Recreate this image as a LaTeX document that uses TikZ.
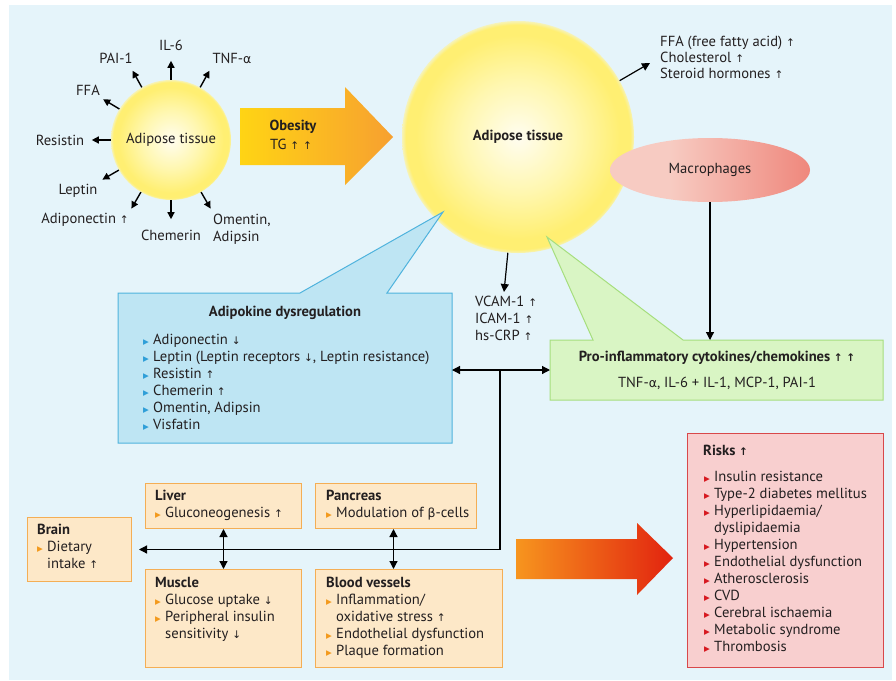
\documentclass[tikz,border=0pt]{standalone}
\usepackage{fontspec}
\setmainfont{PT Sans}
\newfontfamily\symf{DejaVu Sans}
\usetikzlibrary{arrows.meta,shapes.geometric,calc}
\definecolor{bgc}{HTML}{E5F4FA}
\definecolor{tc}{HTML}{231F20}
\definecolor{cin}{HTML}{FFFDF0}
\definecolor{cmid}{HTML}{FFF7B0}
\definecolor{cout}{HTML}{FFEF72}
\definecolor{cedge}{HTML}{F6F3B8}
\definecolor{obl}{HTML}{FFD414}
\definecolor{obr}{HTML}{F7A030}
\definecolor{rl}{HTML}{F7951E}
\definecolor{rr}{HTML}{E2230F}
\definecolor{maca}{HTML}{EE9C8F}
\definecolor{macb}{HTML}{F7CBC2}
\definecolor{macc}{HTML}{E9574A}
\definecolor{bfill}{HTML}{BEE5F3}
\definecolor{bbord}{HTML}{4FB3DD}
\definecolor{gfill}{HTML}{D9F5C4}
\definecolor{gbord}{HTML}{A6DE7E}
\definecolor{pfill}{HTML}{FDE8C8}
\definecolor{pbord}{HTML}{F4AE55}
\definecolor{rfill}{HTML}{F8CFCF}
\definecolor{rbord}{HTML}{D8484A}
\definecolor{bub}{HTML}{2F9FD8}
\definecolor{buo}{HTML}{F39A1E}
\definecolor{bur}{HTML}{D71920}
\pgfdeclareradialshading{sun}{\pgfpoint{0bp}{0bp}}{color(0bp)=(cin); color(12bp)=(cmid); color(22bp)=(cout); color(24.2bp)=(cout); color(25bp)=(cedge); color(50bp)=(cedge)}
\pgfdeclarehorizontalshading{macsh}{100bp}{color(0bp)=(maca); color(25bp)=(macb); color(40bp)=(macb); color(100bp)=(macc)}
\newcommand{\fsz}{\fontsize{14.6}{17}\selectfont}
\newcommand{\upa}{{\symf\fontsize{10.5}{10.5}\selectfont ↑}}
\newcommand{\dna}{{\symf\fontsize{10.5}{10.5}\selectfont ↓}}
\newcommand{\alp}{{\symf\fontsize{12.5}{12.5}\selectfont α}}
\newcommand{\bet}{{\symf\fontsize{12.5}{12.5}\selectfont β}}
\newcommand{\bul}[1]{\makebox[10pt][l]{\color{#1}\symf\fontsize{7.5}{7.5}\selectfont ▶}}
\newcommand{\indnt}{\hspace*{10pt}}
\tikzset{
  txt/.style={inner sep=0pt, font=\fsz, text=tc},
  conn/.style={draw=black, line width=1.2pt, -{Triangle[length=8pt,width=8pt]}},
  dconn/.style={draw=black, line width=1.2pt, {Triangle[length=8pt,width=8pt]}-{Triangle[length=8pt,width=8pt]}},
  rad/.style={draw=black, line width=1.4pt, -{Triangle[length=7pt,width=7pt]}},
  pbox/.style={draw=pbord, fill=pfill, line width=1pt, inner sep=0pt, anchor=north west},
  hidden/.style={inner sep=0pt, outer sep=0pt}
}
\begin{document}
\begin{tikzpicture}[x=1pt,y=-1pt]
\useasboundingbox (0,0) rectangle (896,680);
\fill[bgc] (9,5) rectangle (892,680);

% small adipose tissue circle
\node[circle, minimum size=120pt, inner sep=0pt, shading=sun, shade, txt] (sc) at (171,140) {Adipose tissue};
\foreach \a in {90,119,61,149,180,210,240,270,300}{
  \draw[rad] (sc.\a) -- ++(\a:19pt);
}
\node[txt] (lil6) at (171,45) {IL-6};
\node[txt] (lpai) at (116,58) {PAI-1};
\node[txt] (ltnf) at (232,58) {TNF-\alp};
\node[txt] (lffa) at (88,90) {FFA};
\node[txt] (lres) at (60,140) {Resistin};
\node[txt] (llep) at (78,191) {Leptin};
\node[txt] (ladi) at (85,220) {Adiponectin \upa};
\node[txt] (lche) at (171,235) {Chemerin};
\node[txt, anchor=north west, align=left] (lome) at (213,214) {Omentin,\\Adipsin};

% obesity arrow
\shade[left color=obl, right color=obr] (240,108) -- (345,108) -- (345,87) -- (393,137) -- (345,185) -- (345,165) -- (240,165) -- cycle;
\node[txt, font=\fsz\bfseries] (obt) at (293,127) {Obesity};
\node[txt] (tg) at (291,144) {TG \upa\ \upa};

% big adipose tissue circle
\node[circle, minimum size=232pt, inner sep=0pt, shading=sun, shade, txt, font=\fsz\bfseries] (bc) at (518,137) {Adipose tissue};

% FFA etc
\node[txt, anchor=north west, align=left, font=\fontsize{14.6}{16}\selectfont] (ffa) at (660,36) {FFA (free fatty acid) \upa\\Cholesterol \upa\\Steroid hormones \upa};
\coordinate (ffaend) at (650,63);
\draw[conn] (bc.29) -- (ffaend);

% macrophages
\node[ellipse, minimum width=200pt, minimum height=64pt, inner sep=0pt, shading=macsh, shade, txt] (mac) at (710,170) {Macrophages};

% blue callout
\path[fill=bfill, draw=bbord, line width=1pt] (118,293) -- (300,293) -- (443,212) -- (387,293) -- (452,293) -- (452,443) -- (118,443) -- cycle;
\node[hidden, minimum width=334pt, minimum height=150pt] (bbox) at (285,368) {};
\node[txt, font=\fsz\bfseries] (bt) at (285,313) {Adipokine dysregulation};
\node[txt, anchor=north west, align=left] (bl) at (143,334) {\bul{bub}Adiponectin \dna\\\bul{bub}Leptin (Leptin receptors \dna, Leptin resistance)\\\bul{bub}Resistin \upa\\\bul{bub}Chemerin \upa\\\bul{bub}Omentin, Adipsin\\\bul{bub}Visfatin};

% green callout
\path[fill=gfill, draw=gbord, line width=1pt] (550,340) -- (593,340) -- (547,237) -- (683,340) -- (883,340) -- (883,400) -- (550,400) -- cycle;
\node[hidden, minimum width=333pt, minimum height=60pt] (gbox) at (716.5,370) {};
\node[txt, font=\fsz\bfseries] (gt) at (717,358) {Pro-inflammatory cytokines/chemokines \upa\ \upa};
\node[txt] (gl) at (717,383) {TNF-\alp, IL-6 + IL-1, MCP-1, PAI-1};

\draw[conn] (mac.south) -- (mac.south |- gbox.north);

% VCAM
\node[txt, anchor=north west, align=left] (vc) at (475,296) {VCAM-1 \upa\\ICAM-1 \upa\\hs-CRP \upa};
\coordinate (vcend) at (504,292);
\draw[conn] (bc.265) -- (vcend);

% peach boxes
\node[pbox, minimum width=104pt, minimum height=64pt] (brain) at (27,517) {};
\node[pbox, minimum width=156pt, minimum height=45pt] (liver) at (145,483) {};
\node[pbox, minimum width=156pt, minimum height=98pt] (muscle) at (145,569) {};
\node[pbox, minimum width=161pt, minimum height=45pt] (pancreas) at (315,483) {};
\node[pbox, minimum width=187pt, minimum height=98pt] (blood) at (315,569) {};

\node[txt, anchor=north west, align=left] (brt) at (37,524) {\textbf{Brain}\\\bul{buo}Dietary\\\indnt intake \upa};
\node[txt, anchor=north west, align=left] (lvt) at (155,490) {\textbf{Liver}\\\bul{buo}Gluconeogenesis \upa};
\node[txt, anchor=north west, align=left] (mut) at (155,577) {\textbf{Muscle}\\\bul{buo}Glucose uptake \dna\\\bul{buo}Peripheral insulin\\\indnt sensitivity \dna};
\node[txt, anchor=north west, align=left] (pat) at (326,490) {\textbf{Pancreas}\\\bul{buo}Modulation of \bet-cells};
\node[txt, anchor=north west, align=left] (blt) at (326,577) {\textbf{Blood vessels}\\\bul{buo}Inflammation/\\\indnt oxidative stress \upa\\\bul{buo}Endothelial dysfunction\\\bul{buo}Plaque formation};

% connectors
\draw[dconn] (bbox.east |- gbox.west) -- (gbox.west);
\coordinate (j1) at (500,370);
\draw[conn, shorten >=7pt] (j1) |- (brain.east);
\draw[dconn] (liver.south) -- (muscle.north);
\draw[dconn] ([xshift=-2.5pt]pancreas.south) -- ([xshift=-2.5pt]pancreas.south |- blood.north);

% red arrow
\shade[left color=rl, right color=rr] (516,539) -- (637,539) -- (637,523) -- (673,558) -- (637,595) -- (637,579) -- (516,579) -- cycle;

% risks
\node[draw=rbord, fill=rfill, line width=1pt, inner sep=0pt, anchor=north west, minimum width=196pt, minimum height=234pt] (risks) at (687,433) {};
\node[txt, anchor=north west, font=\fsz\bfseries] (rt) at (703,445) {Risks \upa};
\node[txt, anchor=north west, align=left] (rlst) at (704,471) {\bul{bur}Insulin resistance\\\bul{bur}Type-2 diabetes mellitus\\\bul{bur}Hyperlipidaemia/\\\indnt dyslipidaemia\\\bul{bur}Hypertension\\\bul{bur}Endothelial dysfunction\\\bul{bur}Atherosclerosis\\\bul{bur}CVD\\\bul{bur}Cerebral ischaemia\\\bul{bur}Metabolic syndrome\\\bul{bur}Thrombosis};
\end{tikzpicture}
\end{document}
